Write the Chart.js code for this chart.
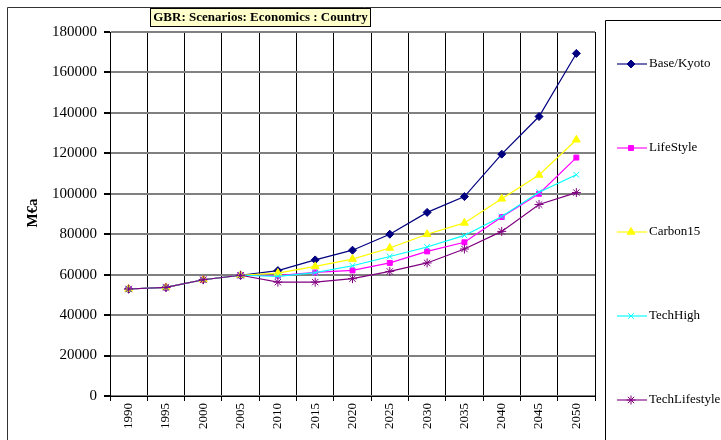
<!DOCTYPE html>
<html><head><meta charset="utf-8">
<script src="https://cdn.jsdelivr.net/npm/chart.js@4/dist/chart.umd.min.js"></script>
<style>html,body{margin:0;padding:0;background:#fff;}#wrap{width:721px;height:440px;position:relative;}</style>
</head><body><div id="wrap"><canvas id="c" width="721" height="440"></canvas></div>
<script>
const years = ['1990','1995','2000','2005','2010','2015','2020','2025','2030','2035','2040','2045','2050'];
const yTicks = [0,20000,40000,60000,80000,100000,120000,140000,160000,180000];
const baseKyoto = [52900,53700,57500,59700,62000,67300,72100,80000,90800,98600,119600,138200,169400];
const lifeStyle = [52900,53700,57500,59700,59500,61100,62100,65800,71500,76000,88500,100000,117900];
const carbon15 = [52900,53700,57500,59700,60800,64100,67700,73200,80000,85600,97500,109300,126700];
const techHigh = [52900,53700,57500,59700,59200,61000,64400,69000,73700,79400,88800,100800,109400];
const techLifestyle = [52900,53700,57500,59700,56300,56300,58000,61600,65800,72700,81400,94700,100600];
const seriesNames = ['Base/Kyoto','LifeStyle','Carbon15','TechHigh','TechLifestyle'];
const chartTitle = 'GBR: Scenarios: Economics : Country';
const yTitle = 'M€a';

const serif = "'Liberation Serif','Times New Roman',serif";
const styles = [
  {color:'#000080', point:'rectRot', r:4},
  {color:'#FF00FF', point:'rect', r:3.5},
  {color:'#FFFF00', point:'triangle', r:4.5},
  {color:'#00FFFF', point:'crossRot', r:4},
  {color:'#800080', point:'star', r:4.5}
];
const allData = [baseKyoto, lifeStyle, carbon15, techHigh, techLifestyle];

const datasets = allData.map((d,i)=>({
  label: seriesNames[i],
  data: d,
  order: allData.length - i,
  borderColor: styles[i].color,
  backgroundColor: styles[i].color,
  pointBackgroundColor: styles[i].color,
  pointBorderColor: styles[i].color,
  pointStyle: styles[i].point,
  pointRadius: styles[i].r,
  pointBorderWidth: 1,
  borderWidth: 1.2,
  tension: 0,
  fill: false
}));

const decor = {
  id:'decor',
  beforeDraw(chart){
    const ctx = chart.ctx;
    ctx.save();
    ctx.fillStyle = '#fff';
    ctx.fillRect(0,0,chart.width,chart.height);
    ctx.strokeStyle = '#333';
    ctx.lineWidth = 1;
    ctx.beginPath();
    ctx.moveTo(7.5,445); ctx.lineTo(7.5,7.5); ctx.lineTo(725,7.5);
    ctx.stroke();
    ctx.restore();
  },
  afterDraw(chart){
    const ctx = chart.ctx;
    ctx.save();
    // title box
    ctx.font = "bold 13px " + serif;
    const tw = ctx.measureText(chartTitle).width;
    const cx = 260.5;
    const bx = Math.round(cx - tw/2 - 3) + 0.5, bw = Math.round(tw + 6);
    ctx.fillStyle = '#FFFFCC';
    ctx.fillRect(bx, 8.5, bw, 18);
    ctx.strokeStyle = '#000';
    ctx.lineWidth = 1;
    ctx.strokeRect(bx, 8.5, bw, 18);
    ctx.fillStyle = '#000';
    ctx.textAlign = 'center';
    ctx.textBaseline = 'middle';
    ctx.fillText(chartTitle, cx, 18);
    // y axis title
    ctx.save();
    ctx.translate(33, 213);
    ctx.rotate(-Math.PI/2);
    ctx.font = "bold 15px " + serif;
    ctx.fillText(yTitle, 0, 0);
    ctx.restore();
    // legend box
    ctx.strokeStyle = '#000';
    ctx.lineWidth = 1;
    ctx.beginPath();
    ctx.moveTo(605.5, 445); ctx.lineTo(605.5, 20.5); ctx.lineTo(725, 20.5);
    ctx.stroke();
    ctx.font = "13px " + serif;
    ctx.textAlign = 'left';
    chart.data.datasets.forEach((ds,i)=>{
      const y = 64 + i*84;
      ctx.strokeStyle = ds.borderColor;
      ctx.globalAlpha = 0.75;
      ctx.lineWidth = 1.5;
      ctx.beginPath(); ctx.moveTo(617, y); ctx.lineTo(647, y); ctx.stroke();
      ctx.globalAlpha = 1;
      ctx.fillStyle = ds.borderColor;
      ctx.strokeStyle = ds.borderColor;
      ctx.lineWidth = 1;
      Chart.helpers.drawPoint(ctx, {pointStyle: ds.pointStyle, radius: ds.pointRadius, borderWidth: 1, rotation: 0}, 631, y);
      ctx.fillStyle = '#000';
      ctx.textBaseline = 'middle';
      ctx.fillText(ds.label, 649, y);
    });
    ctx.restore();
  }
};

new Chart(document.getElementById('c'), {
  type:'line',
  data:{labels: years, datasets},
  options:{
    responsive:false,
    animation:false,
    devicePixelRatio:1,
    layout:{padding:{left:0, top:32, right:126, bottom:0}},
    plugins:{legend:{display:false}, title:{display:false}, tooltip:{enabled:false}},
    scales:{
      x:{
        type:'category',
        offset:true,
        grid:{offset:true, color:'#000', lineWidth:1, tickLength:5, tickColor:'#000', drawOnChartArea:true},
        border:{color:'#000', width:1},
        ticks:{font:{family:serif, size:13}, color:'#000', maxRotation:90, minRotation:90, padding:2, autoSkip:false},
        afterFit(s){ s.height = 44; }
      },
      y:{
        min:0, max:180000,
        afterBuildTicks(s){ s.ticks = yTicks.map(v=>({value:v})); },
        grid:{color:'#808080', lineWidth:2, tickLength:6, tickColor:'#000'},
        border:{color:'#000', width:1},
        ticks:{font:{family:serif, size:15}, color:'#000', padding:7, callback:v=>String(v)},
        afterFit(s){ s.width = 110; }
      }
    }
  },
  plugins:[decor]
});
</script>
</body></html>
